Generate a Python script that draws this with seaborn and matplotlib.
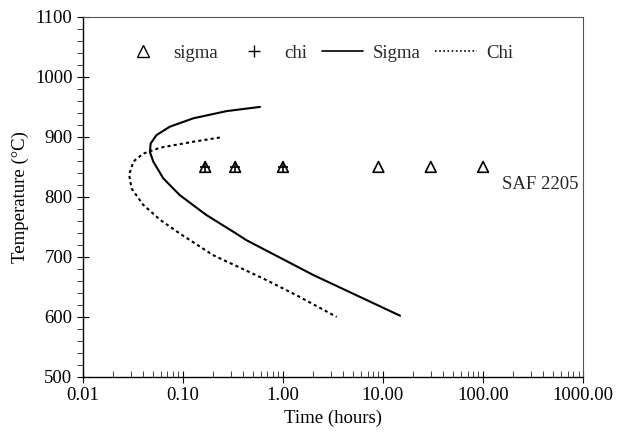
import numpy as np
import pandas as pd
import matplotlib
matplotlib.use('Agg')
import matplotlib.pyplot as plt
import matplotlib.ticker as mticker
from matplotlib.lines import Line2D
import seaborn as sns

# кривые начала выделения фаз, SAF 2205
sigma_t = [0.59, 0.273, 0.127, 0.074, 0.0544, 0.0476, 0.0468, 0.0505, 0.0636,
           0.093, 0.171, 0.34, 0.43, 2.0, 14.8]
sigma_T = [950, 943, 931, 917, 903, 889, 875, 859, 831,
           803, 770, 739, 728, 670, 602]

chi_t = [0.234, 0.127, 0.059, 0.04, 0.032, 0.029, 0.0307, 0.04, 0.059,
         0.093, 0.2, 0.635, 1.37, 3.44]
chi_T = [899, 892, 882, 872, 859, 837, 814, 787, 762,
         739, 703, 664, 636, 600]

# экспериментальные точки
sigma_pts_t = [0.167, 0.333, 1.0, 9.0, 30.0, 100.0]
sigma_pts_T = [850, 850, 850, 850, 850, 850]
chi_pts_t = [0.167, 0.333, 1.0]
chi_pts_T = [850, 850, 850]

sns.set_style('white')
plt.rcParams['font.family'] = ['Liberation Serif', 'DejaVu Serif']
plt.rcParams['font.size'] = 13

sigma_df = pd.DataFrame({'t': sigma_t, 'T': sigma_T})
chi_df = pd.DataFrame({'t': chi_t, 'T': chi_T})

fig = plt.figure(figsize=(6.23, 4.45), dpi=100)
ax = fig.add_axes([0.133, 0.153, 0.803, 0.809])

sns.lineplot(data=sigma_df, x='t', y='T', sort=False, estimator=None, color='black',
             lw=1.5, ax=ax)
sns.lineplot(data=chi_df, x='t', y='T', sort=False, estimator=None, color='black',
             lw=1.5, linestyle=(0, (1.5, 1.5)), ax=ax)
sns.scatterplot(x=sigma_pts_t, y=sigma_pts_T, marker='^', s=60, facecolor='none',
                edgecolor='black', linewidth=1.2, ax=ax)
sns.scatterplot(x=chi_pts_t, y=chi_pts_T, marker='+', s=60, color='black',
                linewidth=1.2, ax=ax)

ax.set_xscale('log')
ax.set_xlim(0.01, 1000)
ax.set_ylim(500, 1100)
ax.set_xticks([0.01, 0.1, 1, 10, 100, 1000])
ax.xaxis.set_major_formatter(mticker.FuncFormatter(lambda v, p: f'{v:.2f}'))
ax.xaxis.set_minor_locator(mticker.LogLocator(base=10, subs=np.arange(2, 10), numticks=20))
ax.xaxis.set_minor_formatter(mticker.NullFormatter())
ax.set_yticks(range(500, 1101, 100))
ax.yaxis.set_minor_locator(mticker.MultipleLocator(20))

ax.tick_params(axis='x', which='major', direction='inout', length=8, width=0.8, bottom=True)
ax.tick_params(axis='x', which='minor', direction='in', length=4, width=0.6, bottom=True)
ax.tick_params(axis='y', which='major', direction='inout', length=8, width=0.8, left=True)
ax.tick_params(axis='y', which='minor', direction='out', length=4, width=0.6, left=True)
ax.tick_params(labelsize=13.5, colors='black')

for s in ['left', 'bottom']:
    ax.spines[s].set_color('black')
    ax.spines[s].set_linewidth(1.0)
for s in ['top', 'right']:
    ax.spines[s].set_color('#555555')
    ax.spines[s].set_linewidth(0.8)

ax.set_xlabel('Time (hours)', fontsize=13.5, color='black')
ax.set_ylabel('Temperature (°C)', fontsize=13.5, color='black')

ax.text(370, 820, 'SAF 2205', fontsize=13.5, ha='center', va='center')

handles = [
    Line2D([], [], marker='^', markerfacecolor='none', markeredgecolor='black', ls='none', ms=8),
    Line2D([], [], marker='+', color='black', ls='none', ms=8),
    Line2D([], [], color='black', lw=1.2),
    Line2D([], [], color='black', lw=1.2, ls=(0, (1, 1.5))),
]
ax.legend(handles, ['sigma', 'chi', 'Sigma', 'Chi'], ncol=4, frameon=False,
          loc='upper center', bbox_to_anchor=(0.47, 0.97), fontsize=13.5,
          handlelength=2.2, columnspacing=0.8, handletextpad=0.5)

fig.savefig('out.png', dpi=100)
